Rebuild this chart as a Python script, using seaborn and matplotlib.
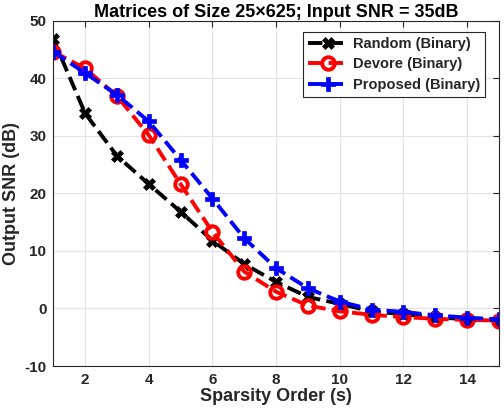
import matplotlib
matplotlib.use("Agg")
import matplotlib.pyplot as plt
import seaborn as sns
import pandas as pd

sparsity = list(range(1, 16))
random_binary = [46.8, 33.9, 26.5, 21.6, 16.8, 11.8, 7.7, 4.6, 2.0, 0.8, -0.5, -1.0, -1.5, -1.9, -2.1]
devore_binary = [44.6, 41.7, 36.9, 30.1, 21.6, 13.3, 6.4, 2.9, 0.5, -0.5, -1.1, -1.5, -1.8, -2.0, -2.1]
proposed_binary = [44.6, 40.9, 37.1, 32.5, 25.8, 19.1, 12.2, 7.0, 3.5, 1.2, -0.2, -0.6, -1.2, -1.6, -1.9]
series_names = ["Random (Binary)", "Devore (Binary)", "Proposed (Binary)"]

sns.set_theme(style="white")
plt.rcParams['font.family'] = ['Liberation Sans', 'DejaVu Sans']
plt.rcParams['axes.unicode_minus'] = False

fig = plt.figure(figsize=(5.04, 4.18), dpi=100)
ax = fig.add_axes([0.1058, 0.1244, 0.990 - 0.1058, 0.9505 - 0.1244])

styles = [
    (random_binary, "black", "X", 9, dict(markeredgewidth=0.5)),
    (devore_binary, "#ff0000", "o", 9, dict(markerfacecolor="none", markeredgewidth=2.8)),
    (proposed_binary, "#0000ff", "P", 10, dict(markeredgewidth=0.5)),
]
for (vals, col, mk, ms, extra), name in zip(styles, series_names):
    df = pd.DataFrame({"s": sparsity, "snr": vals})
    sns.lineplot(data=df, x="s", y="snr", ax=ax, color=col, marker=mk,
                 markersize=ms, linewidth=2.8, linestyle="--", dashes=(2.2, 1.2),
                 markeredgecolor=col, label=name, **extra)

ax.set_xlim(1, 15)
ax.set_ylim(-10, 50)
ax.set_xticks(range(2, 15, 2))
ax.set_yticks(range(-10, 51, 10))
ax.grid(True, color="#e3e3e3", linewidth=0.8)
ax.set_axisbelow(True)
for sp in ax.spines.values():
    sp.set_visible(True)
    sp.set_color("#262626")
    sp.set_linewidth(0.8)
ax.tick_params(direction="in", top=True, right=True, length=4, width=0.8,
               colors="#262626", labelsize=11, pad=5)
for lab in ax.get_xticklabels() + ax.get_yticklabels():
    lab.set_fontweight("bold")
ax.set_xlabel("Sparsity Order (s)", fontsize=13, fontweight="bold", color="#262626", labelpad=1)
ax.set_ylabel("Output SNR (dB)", fontsize=13, fontweight="bold", color="#262626", labelpad=3)
ax.set_title("Matrices of Size 25\u00d7625; Input SNR = 35dB", fontsize=13,
             fontweight="bold", color="black", pad=3)
leg = ax.legend(loc="upper right", fancybox=False, edgecolor="#262626", framealpha=1,
                prop={"weight": "bold", "size": 10.5}, borderpad=0.35, labelspacing=0.45,
                handlelength=2.7, handletextpad=0.35, borderaxespad=0,
                bbox_to_anchor=(1 - 14 / 446, 1 - 11 / 345))
leg.get_frame().set_linewidth(0.8)
fig.savefig("out.png", dpi=100)
